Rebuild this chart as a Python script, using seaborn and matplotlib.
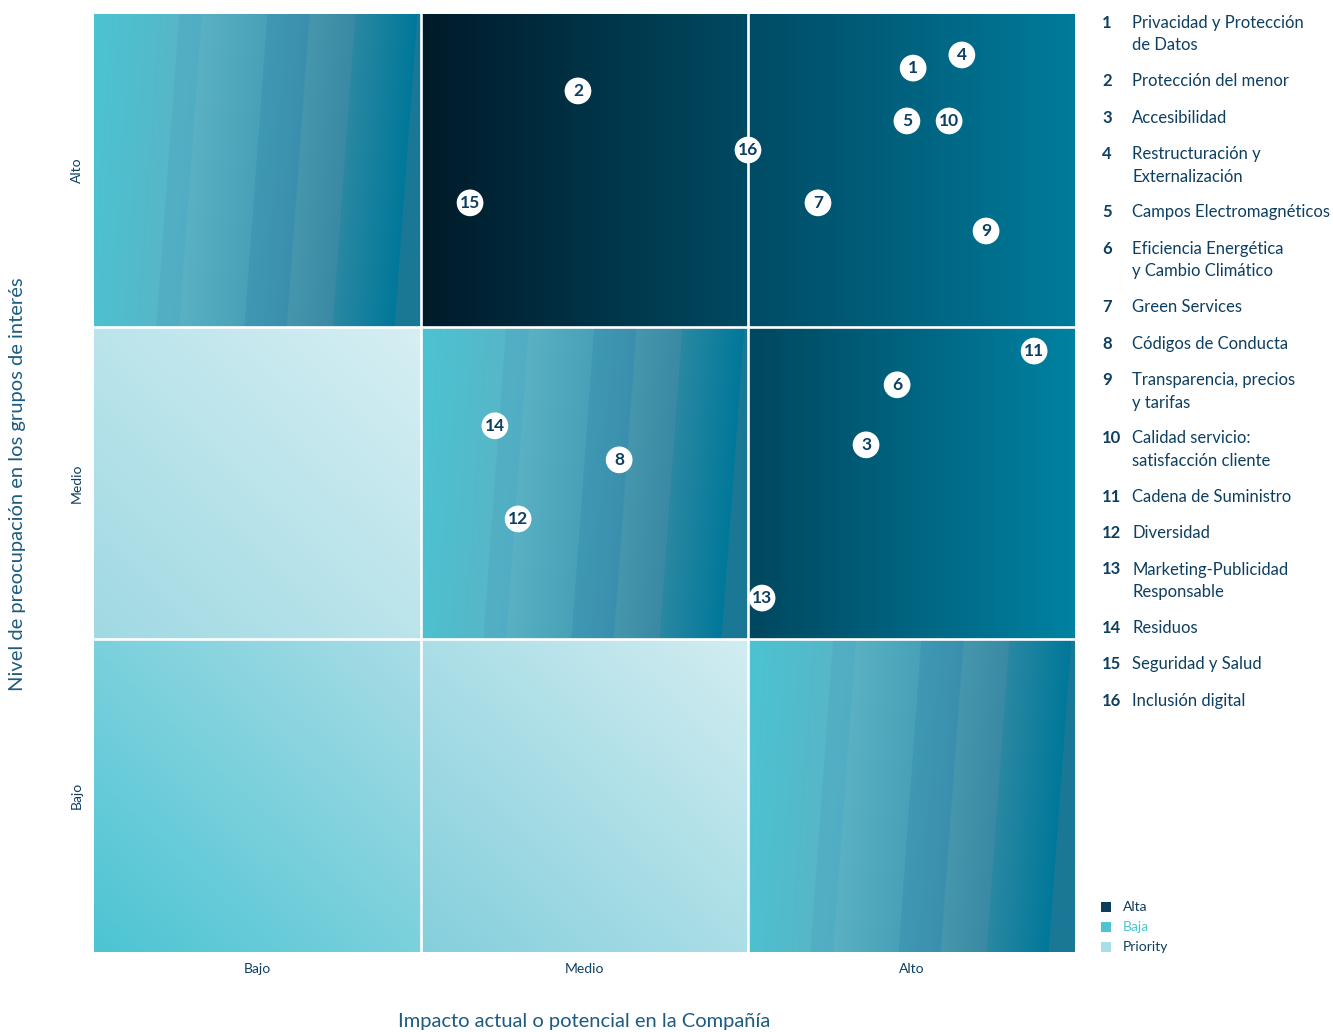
import numpy as np
import pandas as pd
import matplotlib
matplotlib.use("Agg")
import matplotlib.pyplot as plt
import seaborn as sns
from matplotlib.colors import to_rgb
from matplotlib.patches import Rectangle

# ---------------- data ----------------
topic_ids = list(range(1, 17))
topic_labels = [
    "Privacidad y Protección\nde Datos",
    "Protección del menor",
    "Accesibilidad",
    "Restructuración y\nExternalización",
    "Campos Electromagnéticos",
    "Eficiencia Energética\ny Cambio Climático",
    "Green Services",
    "Códigos de Conducta",
    "Transparencia, precios\ny tarifas",
    "Calidad servicio:\nsatisfacción cliente",
    "Cadena de Suministro",
    "Diversidad",
    "Marketing-Publicidad\nResponsable",
    "Residuos",
    "Seguridad y Salud",
    "Inclusión digital",
]
# impacto (x) and preocupación (y), on a 0-3 scale (Bajo, Medio, Alto)
impacto = [2.505, 1.480, 2.361, 2.654, 2.486, 2.456, 2.214, 1.606,
           2.728, 2.615, 2.875, 1.297, 2.043, 1.226, 1.150, 2.000]
preocupacion = [2.827, 2.754, 1.622, 2.869, 2.658, 1.814, 2.396, 1.574,
                2.306, 2.658, 1.922, 1.385, 1.132, 1.683, 2.396, 2.565]
level_labels = ["Bajo", "Medio", "Alto"]
# background style of each matrix cell, rows from Bajo (bottom) to Alto (top)
cell_styles = [
    ["baja", "priority_low", "stripe"],
    ["priority", "stripe", "alta_mid"],
    ["stripe", "alta_dark", "alta"],
]
legend_names = ["Alta", "Baja", "Priority"]
legend_colors = ["#0a3d5e", "#4ec4d3", "#a8dfe6"]
legend_text_colors = ["#0d3c5e", "#4ec4d3", "#0d3c5e"]

TXT = "#0d3f62"
TITLE = "#1d5b80"

# ---------------- style ----------------
sns.set_theme(style="white")
plt.rcParams["font.family"] = ["Lato", "DejaVu Sans"]

fig = plt.figure(figsize=(13.33, 10.32), dpi=100)
W, H = 1333, 1032
ax = fig.add_axes([94 / W, 1 - 952 / H, (1075 - 94) / W, (952 - 14) / H])

N = 600
xf, yf = np.meshgrid(np.linspace(0, 1, N), np.linspace(0, 1, N))


def lin(c0, c1, t):
    a, b = np.array(to_rgb(c0)), np.array(to_rgb(c1))
    t = np.clip(t, 0, 1)[..., None]
    return a * (1 - t) + b * t


def stripe_img():
    u = xf - 0.07 * yf
    segs = [(-0.08, 0.19, "#4bc4d3", "#56b7c8"),
            (0.19, 0.26, "#53b0c4", "#51adc3"),
            (0.26, 0.46, "#5ab1c3", "#48a1b8"),
            (0.46, 0.59, "#3f99b3", "#3b8fae"),
            (0.59, 0.73, "#4697ad", "#3b89a4"),
            (0.73, 0.92, "#2a88a2", "#00789a"),
            (0.92, 1.01, "#1a7896", "#1a7896")]
    img = np.zeros((N, N, 3))
    for s, e, c0, c1 in segs:
        m = (u >= s) & (u < e)
        img[m] = lin(c0, c1, (u[m] - s) / (e - s))
    return img


def make_img(style):
    if style == "stripe":
        return stripe_img()
    if style == "alta_dark":
        return lin("#001a29", "#004a62", xf)
    if style == "alta":
        return lin("#004b65", "#007b9b", xf)
    if style == "alta_mid":
        return lin("#00475f", "#0082a2", xf)
    diag = (xf + yf) / 2
    if style == "baja":
        return lin("#4cc4d3", "#aadde6", diag)
    if style == "priority_low":
        return lin("#84cfdc", "#d2edf1", diag)
    if style == "priority":
        return lin("#a0d9e3", "#d6eff3", diag)


for r, row in enumerate(cell_styles):
    for c, st in enumerate(row):
        ax.imshow(make_img(st), extent=(c, c + 1, r, r + 1), origin="lower",
                  aspect="auto", interpolation="antialiased", zorder=1)

for v in (1, 2):
    ax.axvline(v, color="white", lw=1.9, zorder=2)
    ax.axhline(v, color="white", lw=1.9, zorder=2)

df = pd.DataFrame({"id": topic_ids, "x": impacto, "y": preocupacion})
sns.scatterplot(data=df, x="x", y="y", ax=ax, s=370, color="white",
                edgecolor="none", linewidth=0, zorder=5, legend=False)
for _, rw in df.iterrows():
    ax.text(rw["x"], rw["y"], str(int(rw["id"])), ha="center", va="center",
            fontsize=12.5, fontweight="bold", color=TXT, zorder=6)

ax.set_xlim(0, 3)
ax.set_ylim(0, 3)
ax.set_xticks([0.5, 1.5, 2.5])
ax.set_xticklabels(level_labels, fontsize=10, color=TXT)
ax.set_yticks([0.5, 1.5, 2.5])
ax.set_yticklabels(level_labels, fontsize=10, color=TXT, rotation=90,
                   va="center")
ax.tick_params(axis="x", length=0, pad=8)
ax.tick_params(axis="y", length=0, pad=8)
ax.set_xlabel("")
ax.set_ylabel("")
for sp in ax.spines.values():
    sp.set_visible(False)

fig.text(584 / W, 1 - 1021 / H, "Impacto actual o potencial en la Compañía",
         ha="center", va="center", fontsize=14.5, color=TITLE)
fig.text(18 / W, 1 - 484 / H, "Nivel de preocupación en los grupos de interés",
         ha="center", va="center", rotation=90, fontsize=14.5, color=TITLE)

# numbered topic list
y = 21
for i, lab in zip(topic_ids, topic_labels):
    fig.text(1102 / W, 1 - (y - 6) / H, str(i), ha="left", va="top",
             fontsize=12, fontweight="bold", color=TXT)
    fig.text(1132 / W, 1 - (y - 6) / H, lab, ha="left", va="top",
             fontsize=12, color=TXT, linespacing=1.5)
    y += 36.5 + 21.7 * lab.count("\n")

# colour legend
for k, (nm, col, tcol) in enumerate(zip(legend_names, legend_colors,
                                        legend_text_colors)):
    yy = 907 + 20 * k
    fig.add_artist(Rectangle(((1101) / W, 1 - (yy + 5) / H), 10 / W, 10 / H,
                             transform=fig.transFigure, color=col, lw=0))
    fig.text(1123 / W, 1 - yy / H, nm, ha="left", va="center",
             fontsize=10, color=tcol)

fig.savefig("out.png", dpi=100)
